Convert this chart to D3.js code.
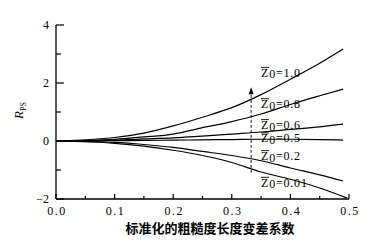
<!DOCTYPE html>
<html>
<head>
<meta charset="utf-8">
<script src="https://cdn.jsdelivr.net/npm/d3@7"></script>
<style>
  body { margin: 0; background: #fff; }
  svg { display: block; }
  .serif { font-family: "Liberation Serif", "Times New Roman", "DejaVu Serif", serif; }
  .tick-label { font-size: 12px; fill: #000; }
</style>
</head>
<body>
<div id="chart"></div>
<script>
// series values (x = normalized variation coefficient)
const zLabels = ["1.0", "0.8", "0.6", "0.5", "0.2", "0.01"];
const xs = [0, 0.1, 0.15, 0.2, 0.25, 0.3, 0.35, 0.4, 0.45, 0.49];
const z10  = [0, 0.12, 0.27, 0.52, 0.82, 1.15, 1.60, 2.13, 2.68, 3.17];
const z08  = [0, 0.06, 0.14, 0.24, 0.46, 0.67, 0.93, 1.26, 1.56, 1.79];
const z06  = [0, 0.03, 0.07, 0.11, 0.17, 0.24, 0.31, 0.40, 0.49, 0.58];
const z05  = [0, 0.01, 0.02, 0.03, 0.04, 0.05, 0.06, 0.06, 0.05, 0.03];
const z02  = [0, -0.05, -0.12, -0.22, -0.36, -0.50, -0.68, -0.93, -1.17, -1.38];
const xs01 = [0, 0.1, 0.15, 0.2, 0.25, 0.3, 0.35, 0.4, 0.45, 0.497];
const z001 = [0, -0.08, -0.18, -0.32, -0.50, -0.74, -1.07, -1.32, -1.62, -1.97];
// where each curve label sits, in R_PS units
const labelAt = [2.21, 1.13, 0.41, -0.05, -0.66, -1.58];
const xTicks = [0, 0.1, 0.2, 0.3, 0.4, 0.5];
const yTicks = [-2, 0, 2, 4];
// dashed arrow: x position and R_PS span
const arrowX = 0.333;
const arrowSpan = [-1.1, 1.85];

const series = [
  { xs: xs, ys: z10 }, { xs: xs, ys: z08 }, { xs: xs, ys: z06 },
  { xs: xs, ys: z05 }, { xs: xs, ys: z02 }, { xs: xs01, ys: z001 }
];

const W = 388, H = 252;
const svg = d3.select("#chart").append("svg").attr("width", W).attr("height", H);

const x = d3.scaleLinear().domain([0, 0.5]).range([56, 349]);
const y = d3.scaleLinear().domain([-2, 4]).range([199, 25]);

// y axis
const yAxis = svg.append("g").attr("transform", `translate(${x(0)},0)`);
yAxis.append("line").attr("y1", y(4)).attr("y2", y(-2)).attr("stroke", "#000").attr("stroke-width", 1.3);
d3.range(-2, 4.01, 1).forEach(v => {
  const major = v % 2 === 0;
  yAxis.append("line").attr("x1", 0).attr("x2", major ? 8 : 5)
    .attr("y1", y(v)).attr("y2", y(v)).attr("stroke", "#000").attr("stroke-width", 1.2);
});
yAxis.selectAll("text.yt").data(yTicks).enter().append("text")
  .attr("class", "tick-label serif")
  .attr("x", -7).attr("y", d => y(d) + 4)
  .attr("text-anchor", "end")
  .text(d => d < 0 ? "\u2212" + Math.abs(d) : d);

// x axis
const xAxis = svg.append("g").attr("transform", `translate(0,${y(-2)})`);
xAxis.append("line").attr("x1", x(0)).attr("x2", x(0.5)).attr("stroke", "#000").attr("stroke-width", 1.3);
d3.range(0, 0.501, 0.05).forEach((v, i) => {
  const major = i % 2 === 0;
  xAxis.append("line").attr("x1", x(v)).attr("x2", x(v))
    .attr("y1", 0).attr("y2", major ? -5 : -3).attr("stroke", "#000").attr("stroke-width", 1.2);
});
xAxis.selectAll("text.xt").data(xTicks).enter().append("text")
  .attr("class", "tick-label serif")
  .attr("x", d => x(d) + 1).attr("y", 16)
  .attr("text-anchor", "middle")
  .style("letter-spacing", "1.5px")
  .text(d => d3.format(".1f")(d));

// axis titles
const yTitle = svg.append("text")
  .attr("class", "serif")
  .attr("transform", "translate(23,119) rotate(-90)")
  .style("font-size", "13px")
  .style("font-style", "italic");
yTitle.append("tspan").text("R");
yTitle.append("tspan").attr("dy", 3).style("font-size", "8px").style("font-style", "normal").text("PS");

svg.append("text")
  .attr("x", 210).attr("y", 233)
  .attr("text-anchor", "middle")
  .style("font-family", "'Noto Sans CJK SC', sans-serif")
  .style("font-size", "13px")
  .style("font-weight", "bold")
  .text("标准化的粗糙度长度变差系数");

// curves
const line = d3.line()
  .x(d => x(d[0])).y(d => y(d[1]))
  .curve(d3.curveMonotoneX);

svg.selectAll("path.curve").data(series).enter().append("path")
  .attr("class", "curve")
  .attr("d", s => line(s.xs.map((v, i) => [v, s.ys[i]])))
  .attr("fill", "none")
  .attr("stroke", "#000")
  .attr("stroke-width", 1.2);

// curve labels
const lab = svg.selectAll("g.zlab").data(zLabels).enter().append("g")
  .attr("class", "zlab")
  .attr("transform", (d, i) => `translate(261,${y(labelAt[i])})`);
const lt = lab.append("text")
  .attr("class", "serif")
  .style("font-size", "12px")
  .style("letter-spacing", "0.8px");
lt.append("tspan").text("Z");
lt.append("tspan").attr("dy", 1.5).text("0");
lt.append("tspan").attr("dy", -1.5).text(d => "=" + d);
lab.append("line").attr("x1", 0).attr("x2", 8).attr("y1", -9.5).attr("y2", -9.5)
  .attr("stroke", "#000").attr("stroke-width", 0.9);

// dashed arrow
const ax = x(arrowX);
svg.append("line")
  .attr("x1", ax).attr("x2", ax)
  .attr("y1", y(arrowSpan[0])).attr("y2", y(arrowSpan[1]) + 5)
  .attr("stroke", "#000").attr("stroke-width", 0.9)
  .attr("stroke-dasharray", "3,2");
svg.append("path")
  .attr("d", `M${ax},${y(arrowSpan[1])} L${ax - 2.5},${y(arrowSpan[1]) + 7} L${ax + 2.5},${y(arrowSpan[1]) + 7} Z`)
  .attr("fill", "#000");
</script>
</body>
</html>
